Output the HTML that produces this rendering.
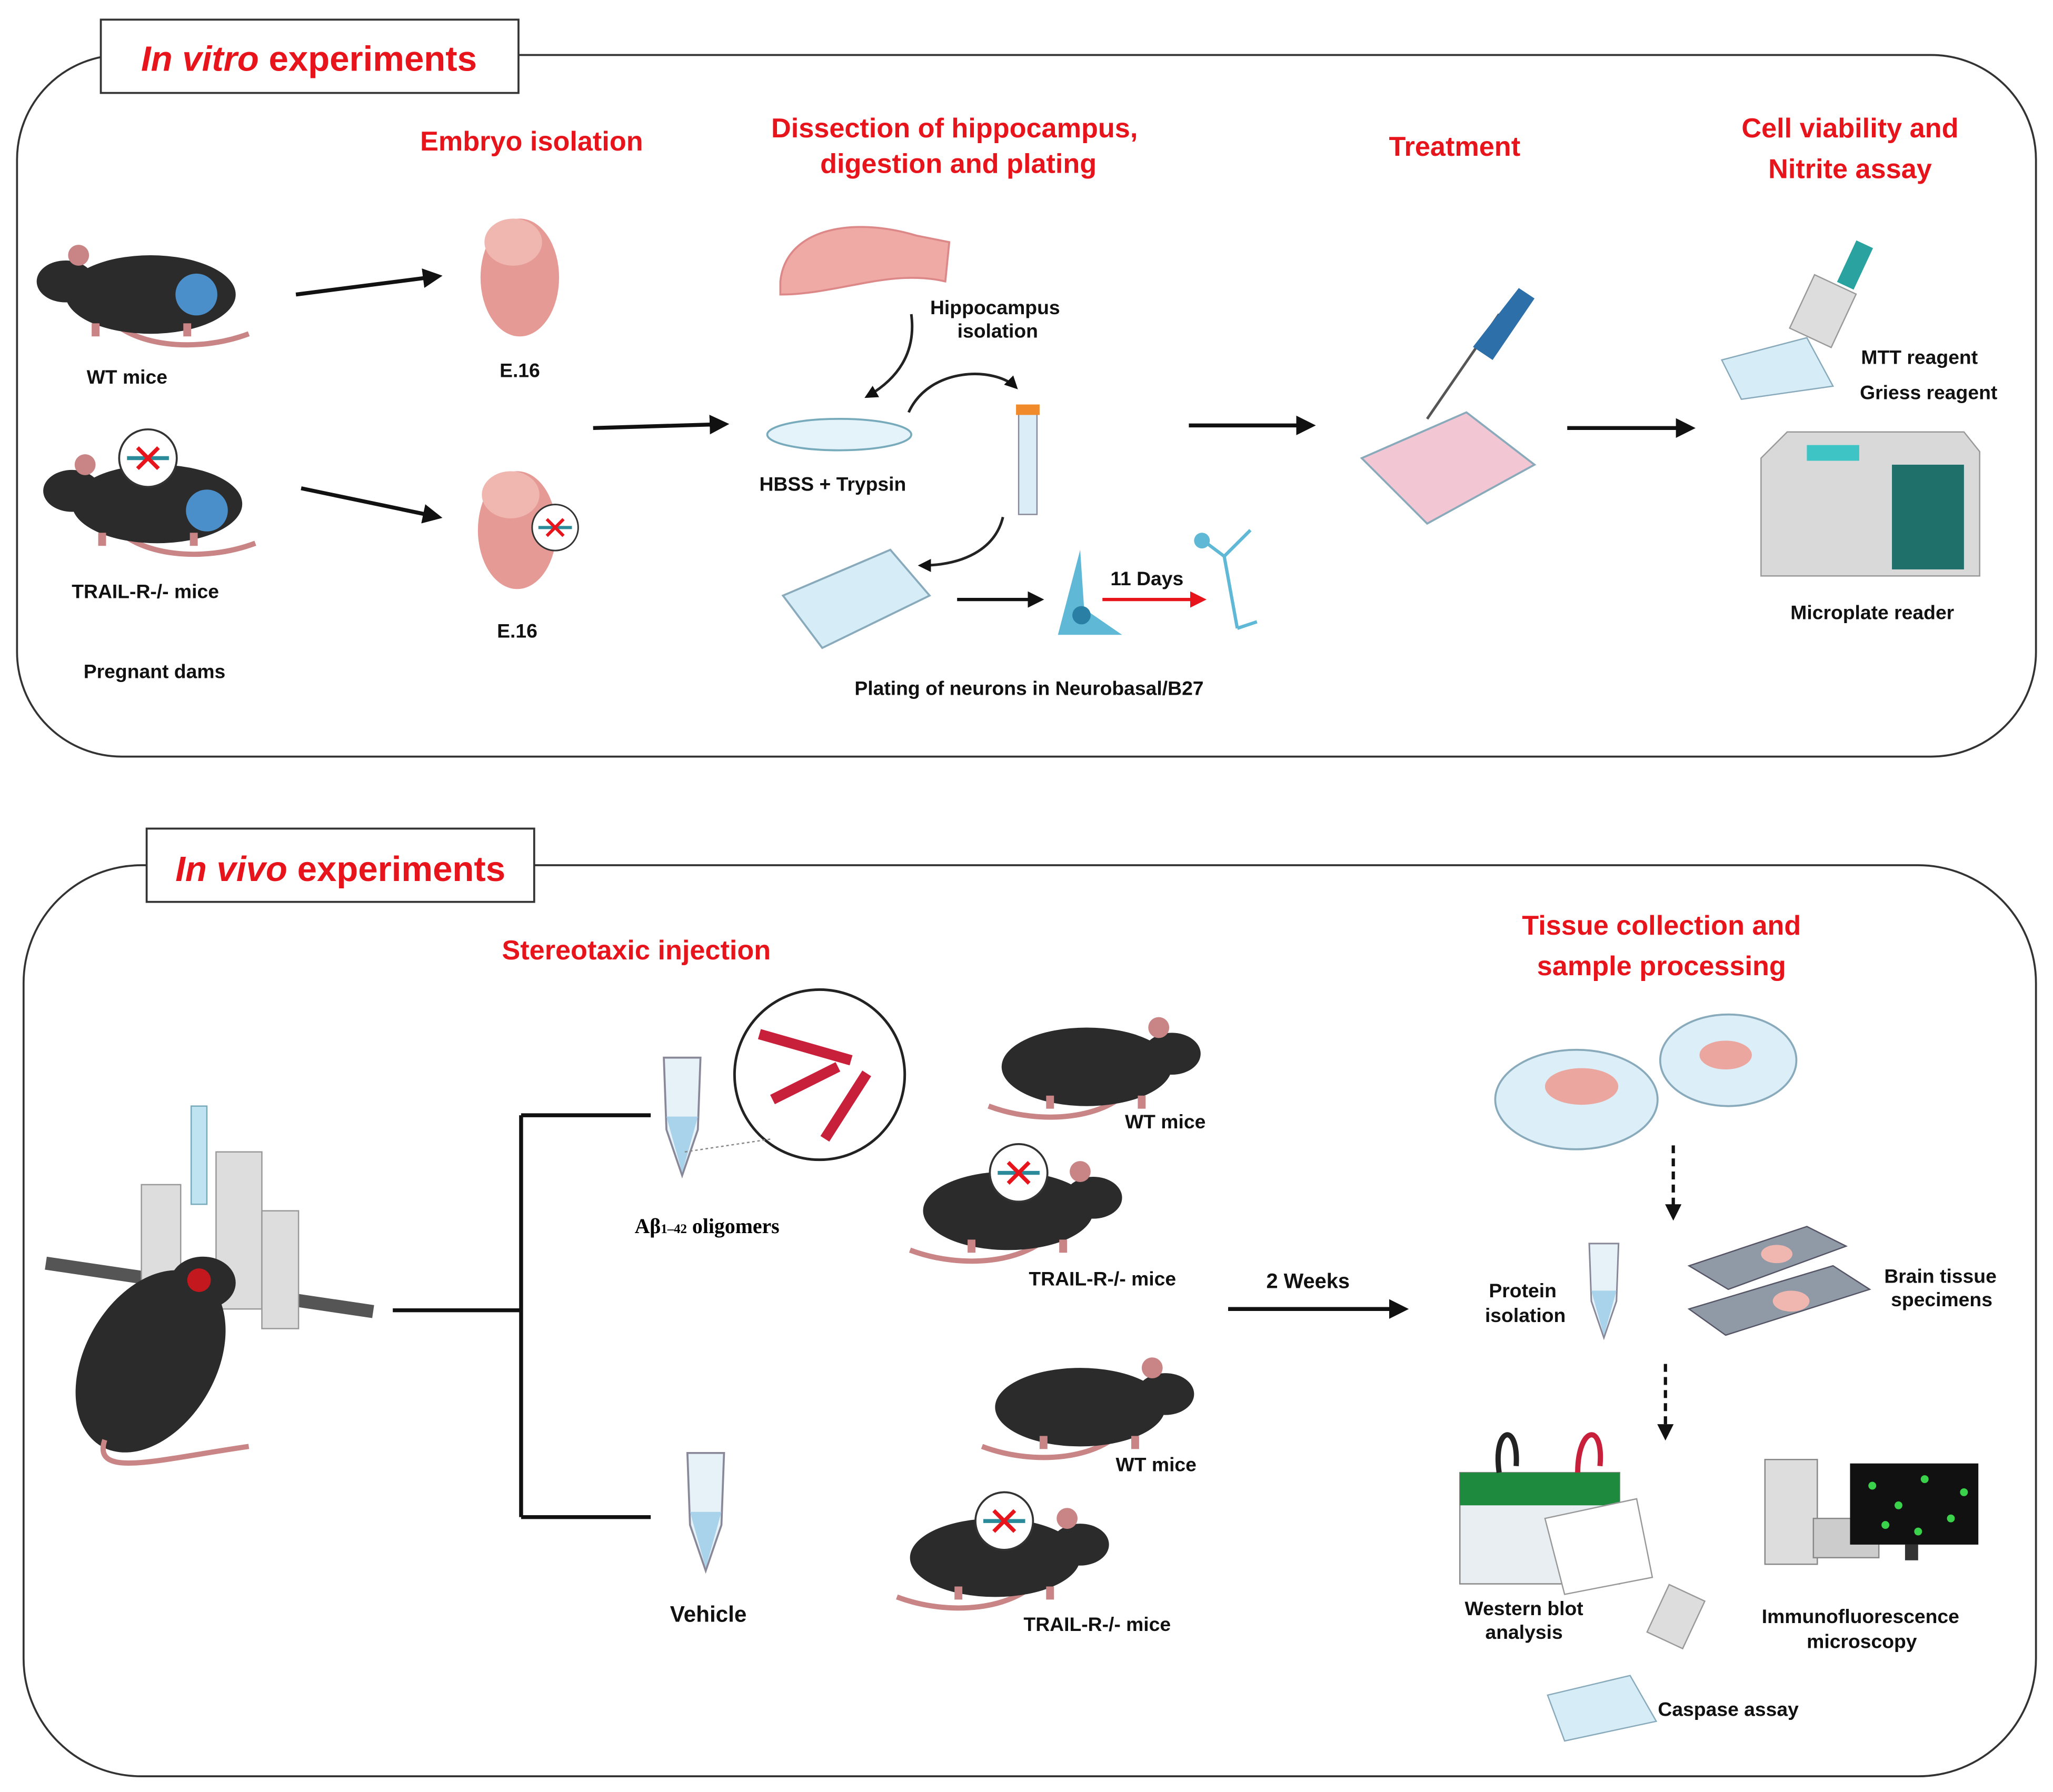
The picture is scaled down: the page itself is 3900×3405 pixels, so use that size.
<!DOCTYPE html>
<html><head><meta charset="utf-8"><style>
html,body{margin:0;padding:0;background:#fff}
svg{display:block}
text{font-family:"Liberation Sans",sans-serif}
.r{fill:#e8141c;font-weight:bold;font-size:21px;text-anchor:middle}
.b{fill:#111;font-weight:bold;font-size:15px;text-anchor:middle}
</style></head><body>
<svg width="3900" height="3405" viewBox="0 0 1568 1369" xmlns="http://www.w3.org/2000/svg">
<defs>
<marker id="a" markerWidth="5" markerHeight="5" refX="4" refY="2.5" orient="auto" markerUnits="strokeWidth"><path d="M0,0 L5,2.5 L0,5 z" fill="#111"/></marker>
<marker id="ar" markerWidth="5" markerHeight="5" refX="4" refY="2.5" orient="auto" markerUnits="strokeWidth"><path d="M0,0 L5,2.5 L0,5 z" fill="#e8141c"/></marker>
<g id="mouse">
<path d="M40,55 C60,80 110,85 150,70" stroke="#c98585" stroke-width="4" fill="none"/>
<ellipse cx="75" cy="40" rx="65" ry="30" fill="#2b2b2b"/>
<ellipse cx="10" cy="30" rx="22" ry="16" fill="#2b2b2b"/>
<circle cx="20" cy="10" r="8" fill="#c98585"/>
<rect x="30" y="62" width="6" height="10" fill="#c98585"/>
<rect x="100" y="62" width="6" height="10" fill="#c98585"/>
</g>
<g id="ko"><circle r="22" fill="#fff" stroke="#333" stroke-width="1.5"/><path d="M-16,0 H16" stroke="#2a8a9a" stroke-width="3"/><path d="M-8,-8 L8,8 M8,-8 L-8,8" stroke="#e8141c" stroke-width="3"/></g>
<g id="tube"><path d="M-14,0 H14 L12,55 L0,90 L-12,55 Z" fill="#e6f2f8" stroke="#889" stroke-width="1.5"/><path d="M-12,45 H12 L0,88 Z" fill="#a9d3ea"/></g>
</defs>

<!-- top panel -->
<rect x="13" y="42" width="1542" height="536" rx="80" fill="none" stroke="#333" stroke-width="1.5"/>
<rect x="77" y="15" width="319" height="56" fill="#fff" stroke="#333" stroke-width="1.5"/>
<text x="236" y="54" style="fill:#e8141c;font-weight:bold;font-size:27px;text-anchor:middle"><tspan font-style="italic">In vitro</tspan> experiments</text>

<text class="r" x="406" y="115">Embryo isolation</text>
<text class="r" x="729" y="105">Dissection of hippocampus,</text>
<text class="r" x="732" y="132">digestion and plating</text>
<text class="r" x="1111" y="119">Treatment</text>
<text class="r" x="1413" y="105">Cell viability and</text>
<text class="r" x="1413" y="136">Nitrite assay</text>

<use href="#mouse" transform="translate(40,185)"/>
<circle cx="150" cy="225" r="16" fill="#4a8fc9"/>
<text class="b" x="97" y="293">WT  mice</text>
<use href="#mouse" transform="translate(45,345)"/>
<use href="#ko" transform="translate(113,350)"/>
<circle cx="158" cy="390" r="16" fill="#4a8fc9"/>
<text class="b" x="111" y="457">TRAIL-R-/-  mice</text>
<text class="b" x="118" y="518">Pregnant dams</text>

<line x1="226" y1="225" x2="335" y2="211" stroke="#111" stroke-width="3" marker-end="url(#a)"/>
<line x1="230" y1="373" x2="335" y2="395" stroke="#111" stroke-width="3" marker-end="url(#a)"/>

<ellipse cx="397" cy="212" rx="30" ry="45" fill="#e69a95"/>
<ellipse cx="392" cy="185" rx="22" ry="18" fill="#f0b6b0"/>
<text class="b" x="397" y="288">E.16</text>
<ellipse cx="395" cy="405" rx="30" ry="45" fill="#e69a95"/>
<ellipse cx="390" cy="378" rx="22" ry="18" fill="#f0b6b0"/>
<use href="#ko" transform="translate(424,403) scale(0.8)"/>
<text class="b" x="395" y="487">E.16</text>

<line x1="453" y1="327" x2="554" y2="324" stroke="#111" stroke-width="3" marker-end="url(#a)"/>

<path d="M596,215 C600,175 650,165 700,180 L725,185 L722,215 C680,205 640,225 596,225 Z" fill="#f0aaa5" stroke="#d88" stroke-width="1.5"/>
<text class="b" x="760" y="240">Hippocampus</text>
<text class="b" x="762" y="258">isolation</text>
<path d="M696,240 C700,270 685,290 662,303" stroke="#222" stroke-width="2" fill="none" marker-end="url(#a)"/>
<ellipse cx="641" cy="332" rx="55" ry="12" fill="#e4f2fa" stroke="#7ab" stroke-width="1.5"/>
<text class="b" x="636" y="375">HBSS + Trypsin</text>
<path d="M694,315 C710,280 760,280 776,296" stroke="#222" stroke-width="2" fill="none" marker-end="url(#a)"/>
<rect x="778" y="313" width="14" height="80" fill="#dbeef8" stroke="#889"/>
<rect x="776" y="309" width="18" height="8" fill="#f08a2a"/>
<path d="M766,395 C760,420 735,432 703,432" stroke="#222" stroke-width="2" fill="none" marker-end="url(#a)"/>
<path d="M598,455 L680,420 L710,455 L628,495 Z" fill="#d6ecf7" stroke="#8ab" stroke-width="1.5"/>
<line x1="731" y1="458" x2="795" y2="458" stroke="#111" stroke-width="2.5" marker-end="url(#a)"/>
<path d="M808,485 L825,420 L828,465 L857,485 Z" fill="#5fb8d5"/>
<circle cx="826" cy="470" r="7" fill="#2a7fa5"/>
<text class="b" x="876" y="447">11 Days</text>
<line x1="842" y1="458" x2="919" y2="458" stroke="#e8141c" stroke-width="2.5" marker-end="url(#ar)"/>
<path d="M915,410 L935,425 L945,480 M935,425 L955,405 M945,480 L960,475" stroke="#5fb8d5" stroke-width="2.5" fill="none"/>
<circle cx="918" cy="413" r="6" fill="#5fb8d5"/>
<text class="b" x="786" y="531">Plating of neurons in Neurobasal/B27</text>

<line x1="908" y1="325" x2="1002" y2="325" stroke="#111" stroke-width="3" marker-end="url(#a)"/>
<path d="M1040,350 L1120,315 L1172,355 L1090,400 Z" fill="#f2c6d3" stroke="#8ab" stroke-width="1.5"/>
<path d="M1090,320 L1145,240" stroke="#555" stroke-width="2"/>
<path d="M1125,265 L1160,220 L1172,228 L1140,275 Z" fill="#2d6fa8"/>
<line x1="1197" y1="327" x2="1292" y2="327" stroke="#111" stroke-width="3" marker-end="url(#a)"/>

<path d="M1315,275 L1380,258 L1400,295 L1330,305 Z" fill="#d6ecf7" stroke="#8ab"/>
<rect x="1375" y="215" width="35" height="45" fill="#ddd" stroke="#999" transform="rotate(25 1392 237)"/>
<rect x="1410" y="185" width="14" height="35" fill="#2aa3a0" transform="rotate(25 1417 202)"/>
<text class="b" x="1466" y="278">MTT reagent</text>
<text class="b" x="1473" y="305">Griess reagent</text>
<path d="M1345,350 L1365,330 L1500,330 L1512,345 L1512,440 L1345,440 Z" fill="#d9d9d9" stroke="#999"/>
<rect x="1380" y="340" width="40" height="12" fill="#3ec4c4"/>
<rect x="1445" y="355" width="55" height="80" fill="#1f6f6b"/>
<text class="b" x="1430" y="473">Microplate reader</text>

<!-- bottom panel -->
<rect x="18" y="661" width="1537" height="696" rx="90" fill="none" stroke="#333" stroke-width="1.5"/>
<rect x="112" y="633" width="296" height="56" fill="#fff" stroke="#333" stroke-width="1.5"/>
<text x="260" y="673" style="fill:#e8141c;font-weight:bold;font-size:27px;text-anchor:middle"><tspan font-style="italic">In vivo</tspan> experiments</text>

<text class="r" x="486" y="733">Stereotaxic injection</text>
<text class="r" x="1269" y="714">Tissue collection and</text>
<text class="r" x="1269" y="745">sample processing</text>

<!-- stereotaxic -->
<line x1="35" y1="965" x2="285" y2="1002" stroke="#555" stroke-width="10"/>
<rect x="108" y="905" width="30" height="100" fill="#ddd" stroke="#999"/>
<rect x="165" y="880" width="35" height="120" fill="#ddd" stroke="#999"/>
<rect x="200" y="925" width="28" height="90" fill="#ddd" stroke="#999"/>
<rect x="146" y="845" width="12" height="75" fill="#bfe3f0" stroke="#7ab"/>
<ellipse cx="115" cy="1040" rx="50" ry="75" fill="#2b2b2b" transform="rotate(30 115 1040)"/>
<ellipse cx="155" cy="980" rx="25" ry="20" fill="#2b2b2b"/>
<circle cx="152" cy="978" r="9" fill="#e8141c" opacity="0.8"/>
<path d="M80,1100 C70,1130 120,1115 190,1105" stroke="#c98585" stroke-width="4" fill="none"/>

<path d="M300,1001 H398 M398,852 V1159 M398,852 H497 M398,1159 H497" stroke="#111" stroke-width="3" fill="none"/>

<use href="#tube" transform="translate(521,808)"/>
<circle cx="626" cy="821" r="65" fill="#fff" stroke="#222" stroke-width="2"/>
<path d="M580,790 L650,810 M590,840 L640,815 M630,870 L662,820" stroke="#c8203a" stroke-width="8"/>
<line x1="523" y1="880" x2="590" y2="870" stroke="#888" stroke-dasharray="2,2"/>
<text x="540" y="942" style="font-family:'Liberation Serif',serif;font-weight:bold;font-size:16px;text-anchor:middle">Aβ<tspan font-size="10">1–42</tspan> oligomers</text>
<use href="#tube" transform="translate(539,1110)"/>
<text class="b" x="541" y="1239" style="font-size:17px">Vehicle</text>

<use href="#mouse" transform="translate(905,775) scale(-1,1)"/>
<text class="b" x="890" y="862">WT  mice</text>
<use href="#mouse" transform="translate(845,885) scale(-1,1)"/>
<use href="#ko" transform="translate(778,896)"/>
<text class="b" x="842" y="982">TRAIL-R-/-  mice</text>
<use href="#mouse" transform="translate(900,1035) scale(-1,1)"/>
<text class="b" x="883" y="1124">WT  mice</text>
<use href="#mouse" transform="translate(835,1150) scale(-1,1)"/>
<use href="#ko" transform="translate(767,1162)"/>
<text class="b" x="838" y="1246">TRAIL-R-/-  mice</text>

<text class="b" x="999" y="984" style="font-size:16px">2 Weeks</text>
<line x1="938" y1="1000" x2="1073" y2="1000" stroke="#111" stroke-width="3" marker-end="url(#a)"/>

<ellipse cx="1204" cy="840" rx="62" ry="38" fill="#dceff8" stroke="#8ab" stroke-width="1.5"/>
<ellipse cx="1208" cy="830" rx="28" ry="14" fill="#eba69f"/>
<ellipse cx="1320" cy="810" rx="52" ry="35" fill="#dceff8" stroke="#8ab" stroke-width="1.5"/>
<ellipse cx="1318" cy="806" rx="20" ry="11" fill="#eba69f"/>
<line x1="1278" y1="875" x2="1278" y2="930" stroke="#111" stroke-width="2.5" stroke-dasharray="6,4" marker-end="url(#a)"/>

<text class="b" x="1163" y="991">Protein</text>
<text class="b" x="1165" y="1010">isolation</text>
<use href="#tube" transform="translate(1225,950) scale(0.8)"/>
<path d="M1290,967 L1380,937 L1410,952 L1320,985 Z" fill="#8f9aa6" stroke="#556"/>
<path d="M1290,1000 L1400,967 L1428,985 L1318,1020 Z" fill="#8f9aa6" stroke="#556"/>
<ellipse cx="1357" cy="958" rx="12" ry="7" fill="#f0b6b0"/>
<ellipse cx="1368" cy="994" rx="14" ry="8" fill="#f0b6b0"/>
<text class="b" x="1482" y="980">Brain tissue</text>
<text class="b" x="1483" y="998">specimens</text>
<line x1="1272" y1="1042" x2="1272" y2="1098" stroke="#111" stroke-width="2.5" stroke-dasharray="6,4" marker-end="url(#a)"/>

<rect x="1115" y="1125" width="122" height="85" fill="#e8eef2" stroke="#888"/>
<rect x="1115" y="1125" width="122" height="25" fill="#1e8a3e"/>
<path d="M1145,1125 C1140,1090 1160,1085 1158,1120" stroke="#222" stroke-width="4" fill="none"/>
<path d="M1205,1125 C1205,1090 1225,1085 1222,1120" stroke="#c8203a" stroke-width="4" fill="none"/>
<path d="M1180,1160 L1250,1145 L1262,1205 L1195,1218 Z" fill="#fff" stroke="#999"/>
<text class="b" x="1164" y="1234">Western blot</text>
<text class="b" x="1164" y="1252">analysis</text>

<path d="M1182,1295 L1245,1280 L1265,1315 L1195,1330 Z" fill="#d6ecf7" stroke="#8ab"/>
<rect x="1265" y="1215" width="30" height="40" fill="#ddd" stroke="#999" transform="rotate(25 1280 1235)"/>
<text class="b" x="1320" y="1311">Caspase assay</text>

<rect x="1348" y="1115" width="40" height="80" fill="#ddd" stroke="#888"/>
<rect x="1385" y="1160" width="50" height="30" fill="#ccc" stroke="#888"/>
<rect x="1413" y="1118" width="98" height="62" fill="#111"/>
<g fill="#3ad24a"><circle cx="1430" cy="1135" r="3"/><circle cx="1450" cy="1150" r="3"/><circle cx="1470" cy="1130" r="3"/><circle cx="1490" cy="1160" r="3"/><circle cx="1440" cy="1165" r="3"/><circle cx="1500" cy="1140" r="3"/><circle cx="1465" cy="1170" r="3"/></g>
<rect x="1455" y="1180" width="10" height="12" fill="#333"/>
<text class="b" x="1421" y="1240">Immunofluorescence</text>
<text class="b" x="1422" y="1259">microscopy</text>
</svg>
</body></html>
